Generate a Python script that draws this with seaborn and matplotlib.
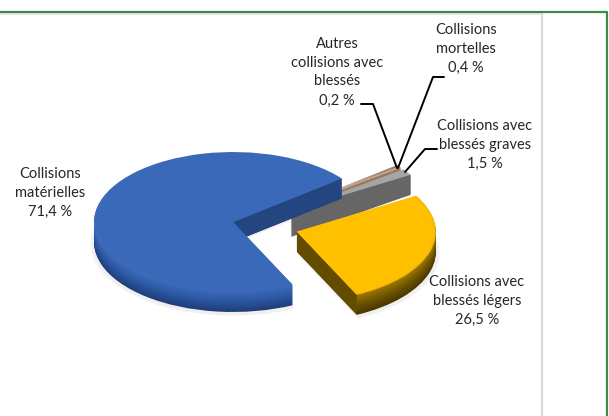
import numpy as np
import matplotlib.pyplot as plt
import seaborn as sns

# parts of the pie, in the order they go round
labels = ["Collisions\nmatérielles\n71,4 %", "Collisions avec\nblessés légers\n26,5 %",
          "Collisions avec\nblessés graves\n1,5 %", "Collisions\nmortelles\n0,4 %",
          "Autres\ncollisions avec\nblessés\n0,2 %"]
values = [71.4, 26.5, 1.5, 0.4, 0.2]
explode = [0, 0.48, 0.47, 0.47, 0.47]

top_colors = ["#3a69ba", "#ffc000", "#a5a5a5", "#c9a58c", "#8a6a50"]
side_colors = [["#1f3f78", "#2a55a0", "#3a68b8"],
               ["#4a3800", "#6b5200", "#9a7500"],
               ["#4e4e4e", "#666666", "#707070"],
               ["#6e5a4a", "#8a6a50", "#9a7a60"],
               ["#5a4a3a", "#6a5a4a", "#7a6a5a"]]
cut_colors = ["#24457f", "#634c00", "#666666", "#666666", "#666666"]

START = 38.5
RX, RY = 139, 70
CX, CY = 233, 222
DEPTH = 20
# the thin slices sit a little lower and to the right of where explode puts them
THIN_SHIFT = (4, 7)
THIN_DEPTH = 26

sns.set_theme(style="white")
plt.rcParams['font.family'] = ['Lato', 'DejaVu Sans']

fig = plt.figure(figsize=(6.09, 4.16), dpi=100)

# pie axes: one data unit is the radius, squashed to look tilted
ax = fig.add_axes([0, 0, 1, 1])


def draw_part(dy, colors, radius, keep, shift, **kw):
    shown = [c if i in keep else "none" for i, c in enumerate(colors)]
    ax.pie(values, explode=explode, startangle=START, colors=shown, radius=radius,
           center=(shift[0] / RX, -(dy + shift[1]) / RY),
           wedgeprops=dict(linewidth=0, **kw))


def draw_thin(dy, colors, radius=1.0, **kw):
    draw_part(dy, colors, radius, (2, 3, 4), THIN_SHIFT, **kw)


def draw_big(dy, colors, radius=1.0, **kw):
    draw_part(dy, colors, radius, (0, 1), (0, 0), **kw)


fracs = np.array(values) / sum(values)
angles = START + 360 * np.concatenate([[0], np.cumsum(fracs)])


def draw_cut(i, edge, shift=(0, 0), depth=DEPTH):
    mid = np.radians((angles[i] + angles[i + 1]) / 2)
    x0 = explode[i] * np.cos(mid) + shift[0] / RX
    y0 = explode[i] * np.sin(mid) - shift[1] / RY
    x1, y1 = x0 + np.cos(np.radians(edge)), y0 + np.sin(np.radians(edge))
    d = depth / RY
    ax.fill([x0, x1, x1, x0], [y0, y1, y1 - DEPTH / RY, y0 - d], color=cut_colors[i], lw=0)


ramps = [sns.blend_palette(c, DEPTH) for c in side_colors]

# soft shadow under the pie
for grow in [0.025, 0.015]:
    draw_big(DEPTH + 2, ["#efefef"] * 5, radius=1 + grow, alpha=0.7)

# thin slices go behind the others
for i in range(DEPTH):
    draw_thin(DEPTH - i, [r[i] for r in ramps])
draw_cut(2, angles[2], THIN_SHIFT, THIN_DEPTH)
draw_thin(0, top_colors)

# sides, from the bottom up, with the cut faces that look towards the viewer
for i in range(DEPTH):
    draw_big(DEPTH - i, [r[i] for r in ramps])
draw_cut(0, angles[0])
draw_cut(1, angles[1])

# top face, a bit darker at the rim
draw_big(0, [sns.desaturate(c, 0.9) for c in top_colors])
draw_big(0, top_colors, radius=0.985)

ax.set_aspect("auto")
ax.set_xlim(-CX / RX, (609 - CX) / RX)
ax.set_ylim((CY - 416) / RY, CY / RY)

# overlay in pixels for frame, leader lines and labels
ov = fig.add_axes([0, 0, 1, 1], facecolor="none")
ov.set_xlim(0, 609)
ov.set_ylim(416, 0)
ov.axis("off")

ov.plot([542, 542], [13, 416], color="#d9d9d9", lw=1.5)
ov.plot([0, 541], [14, 14], color="#e6e6e6", lw=1.2)
ov.plot([0, 607, 607], [11.5, 11.5, 416], color="#3b8a46", lw=1.6)

ov.plot([361, 373, 397], [104, 104, 168], color="black", lw=1.4)
ov.plot([444, 433, 398], [77, 77, 168], color="black", lw=1.4)
ov.plot([437, 425, 405], [149, 149, 172], color="black", lw=1.4)

text_pos = [(50, 193), (477, 300.5), (485, 145), (466, 49), (337, 72)]
for t, (x, y) in zip(labels, text_pos):
    ov.text(x, y, t, ha="center", va="center", fontsize=10.5, color="#262626", linespacing=1.45)

fig.savefig("out.png", dpi=100)
